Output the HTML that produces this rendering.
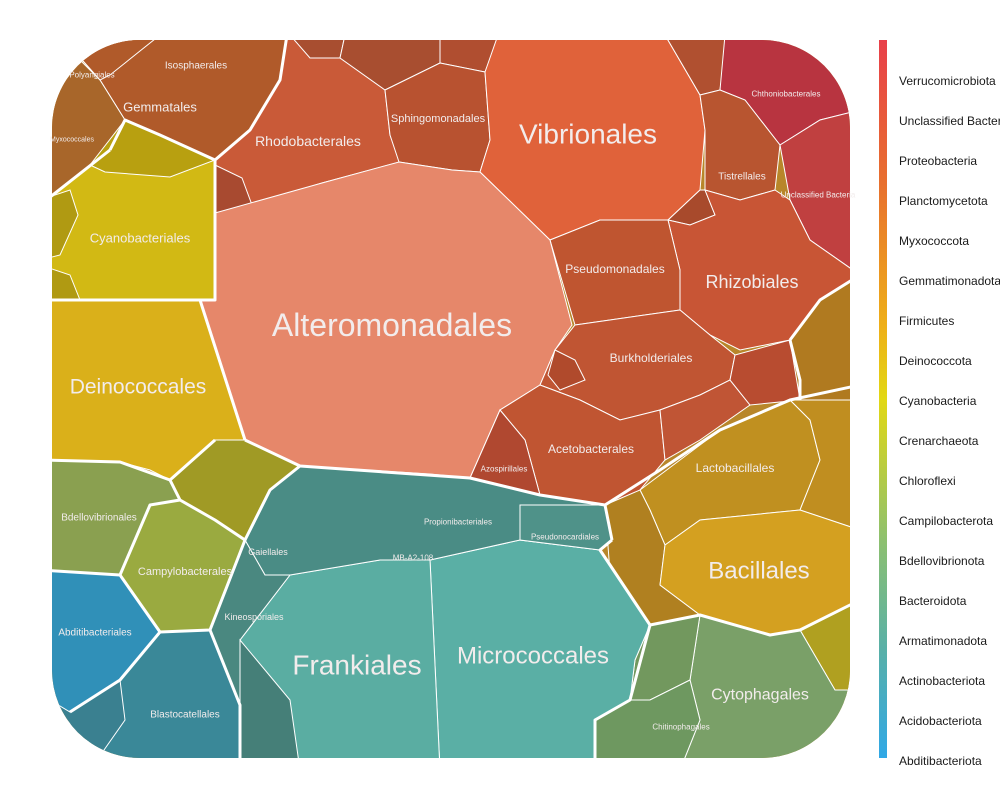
<!DOCTYPE html>
<html><head><meta charset="utf-8">
<style>
html,body{margin:0;padding:0;background:#fff;}
svg{display:block;font-family:"Liberation Sans",sans-serif;}
</style></head>
<body>
<svg id="chart" width="1000" height="800" viewBox="0 0 1000 800">
<defs>
<clipPath id="clip"><rect x="52" y="40" width="798" height="718" rx="88" ry="88"/></clipPath>
<linearGradient id="lg" x1="0" y1="0" x2="0" y2="1">
<stop offset="0" stop-color="#e8404a"/>
<stop offset="0.2" stop-color="#e8702e"/>
<stop offset="0.4" stop-color="#eeb018"/>
<stop offset="0.5" stop-color="#e2d814"/>
<stop offset="0.7" stop-color="#8cc070"/>
<stop offset="0.85" stop-color="#58b0a8"/>
<stop offset="1" stop-color="#30a8e6"/>
</linearGradient>
</defs>
<g id="cells" clip-path="url(#clip)"></g>
<g id="borders" clip-path="url(#clip)"></g>
<g id="labels"></g>
<rect x="879" y="40" width="8" height="718" fill="url(#lg)"/>
<g id="legend"></g>
</svg>
<script>
const legendLabels=["Verrucomicrobiota","Unclassified Bacteria","Proteobacteria","Planctomycetota","Myxococcota","Gemmatimonadota","Firmicutes","Deinococcota","Cyanobacteria","Crenarchaeota","Chloroflexi","Campilobacterota","Bdellovibrionota","Bacteroidota","Armatimonadota","Actinobacteriota","Acidobacteriota","Abditibacteriota"];
const cells=[
["background-fill","#b8862a","0,0 1000,0 1000,800 0,800"],
["planctomycetota","#b05a2a","100,80 60,35 290,35 280,80 250,130 215,160 160,135 125,120"],
["myxococcota","#a8662a","40,210 110,150 125,120 100,80 60,40 40,40"],
["planctomycetes-small","#b05a2a","100,80 60,35 160,35 110,75"],
["cyanobacteriales","#d2b914","40,205 110,150 125,120 160,135 215,160 215,300 40,300"],
["cyano-top-cell","#b8a010","90,165 125,120 215,160 170,177 105,172"],
["cyano-left-cell","#b09a12","40,200 70,190 78,215 60,255 40,260"],
["cyano-left-cell-2","#b09a12","40,265 70,275 80,300 40,300"],
["rhodobacterales","#c95a38","214,160 250,130 280,80 287,35 340,35 385,90 390,135 400,162 322,183 252,205 215,213"],
["rhodo-small","#a84a30","215,165 242,178 252,205 215,213"],
["top-small-1","#a84e30","290,35 345,35 340,58 310,58"],
["top-small-2","#a84e30","345,35 440,35 440,63 385,90 340,58"],
["top-small-3","#b04e30","440,35 500,35 485,72 440,63"],
["sphingomonadales","#b85230","385,90 440,63 485,72 490,140 480,172 452,170 399,162 390,135"],
["vibrionales","#e0623a","485,72 498,35 665,35 700,95 705,130 700,190 668,220 600,220 550,240 480,172 490,140"],
["xanthomonadales","#b05030","665,35 728,35 720,90 700,95"],
["chthoniobacterales","#b83440","725,35 860,35 860,110 820,120 780,145 745,100 720,90"],
["unclassified-bacteria","#c04040","780,145 820,120 860,110 860,275 810,240 790,200"],
["tistrellales","#b85530","700,95 720,90 745,100 780,145 775,190 740,200 705,190 705,130"],
["reyranellales","#a84a2c","668,220 700,190 705,190 715,215 690,225"],
["rhizobiales","#c85535","668,220 690,225 715,215 705,190 740,200 775,190 790,200 810,240 860,275 820,300 790,340 740,350 710,335 680,310 680,270"],
["pseudomonadales","#bf5530","550,240 600,220 668,220 680,270 680,310 610,320 575,325"],
["alteromonadales","#e6876a","215,213 322,183 399,162 452,170 480,172 550,240 572,325 555,350 540,385 500,410 470,478 300,466 245,440 200,300 215,300"],
["burkholderiales","#c05533","575,325 610,320 680,310 710,335 735,355 730,380 700,395 660,410 620,420 580,400 540,385 555,350"],
["burk-small","#b04a2c","555,350 575,360 585,380 560,390 548,375"],
["acetobacterales","#c05532","540,385 580,400 620,420 660,410 665,460 640,490 610,505 540,495 525,440 500,410"],
["azospirillales","#b04830","470,478 500,410 525,440 540,495"],
["caulobacterales","#c05535","660,410 700,395 730,380 750,405 700,440 665,460"],
["caulo-small","#b84c30","735,355 790,340 800,380 800,400 750,405 730,380"],
["gemmatimonadales","#b07a20","790,340 820,300 860,275 860,405 800,400"],
["lactobacillales","#c09020","640,490 720,430 790,400 810,420 820,460 800,510 700,520 665,545 650,510"],
["staphylococcales","#c08e20","790,400 860,400 860,530 800,510 820,460 810,420"],
["firmicutes-small","#b08020","605,505 640,490 650,510 665,545 660,585 700,615 650,625 612,600"],
["bacillales","#d4a020","665,545 700,520 800,510 830,520 860,530 860,600 800,630 770,635 700,615 660,585"],
["chloroflexi-right","#b0a020","800,630 860,600 860,690 835,690"],
["cytophagales","#7aa068","700,615 770,635 800,630 835,690 860,690 860,770 680,770 700,720 690,680"],
["bacteroidota-other","#72985e","650,625 700,615 690,680 650,700 630,700 635,660"],
["chitinophagales","#6e9860","630,700 650,700 690,680 700,720 680,770 595,770 595,720"],
["micrococcales","#5aafa5","430,560 520,540 600,550 650,625 635,660 630,700 595,720 595,770 440,770"],
["frankiales","#5aada2","290,575 380,560 430,560 440,770 240,770 240,640"],
["actino-upper","#4a8c85","300,466 430,474 470,478 540,495 605,505 612,540 600,550 520,540 430,560 380,560 290,575 265,575 245,540 270,490"],
["pseudonocardiales","#4f9289","520,505 605,505 612,540 600,550 520,540"],
["kineosporiales","#4a8880","210,630 245,540 265,575 290,575 240,640 240,705"],
["corynebacteriales","#457f78","240,705 240,640 290,700 300,770 240,770"],
["chloroflexi","#a09a25","170,480 215,440 245,440 300,466 270,490 245,540 215,520 180,500"],
["deinococcales","#dab01a","40,300 200,300 245,440 215,440 170,480 150,470 120,462 40,460"],
["bdellovibrionales","#8aa050","40,460 120,462 170,480 180,500 150,505 120,575 40,570"],
["campylobacterales","#9aaa40","120,575 150,505 180,500 215,520 245,540 210,630 160,632"],
["abditibacteriales","#3090b8","40,570 120,575 160,632 120,680 70,712 40,700"],
["blastocatellales","#3a8898","70,712 120,680 160,632 210,630 240,705 240,770 70,770"],
["pyrinomonadales","#3a8090","50,700 70,712 120,680 125,720 90,770 50,770"]
];
const borders=[
"215,160 215,300 200,300 245,440",
"40,300 200,300",
"110,150 125,120 160,135 215,160 250,130 280,80 287,35",
"40,205 110,150",
"245,440 300,466 470,478 540,495 605,505",
"300,466 270,490 245,540 215,520 180,500 170,480 215,440",
"40,460 120,462 170,480",
"120,575 150,505 180,500",
"40,570 120,575 160,632 210,630 245,540",
"160,632 120,680 70,712",
"605,505 660,470 720,430 790,400 860,385",
"790,340 820,300 860,275",
"790,340 800,380 800,400",
"612,540 605,505",
"612,540 600,550 650,625 630,700 595,720 595,770",
"650,625 700,615 770,635 800,630 860,600",
"210,630 240,705 240,770"
];
const labels=[
["Alteromonadales",392,325,32],["Vibrionales",588,134,28],["Frankiales",357,665,28],["Micrococcales",533,656,24],
["Bacillales",759,571,24],["Deinococcales",138,387,21],["Rhizobiales",752,282,18],["Cytophagales",760,695,16],
["Rhodobacterales",308,141,14],["Cyanobacteriales",140,238,13],["Pseudomonadales",615,269,12],["Burkholderiales",651,358,12],
["Acetobacterales",591,449,12],["Lactobacillales",735,468,12],["Campylobacterales",185,572,11],["Gemmatales",160,107,13],
["Sphingomonadales",438,119,11],["Isosphaerales",196,66,10],["Tistrellales",742,177,10],["Bdellovibrionales",99,518,10],
["Abditibacteriales",95,633,10],["Blastocatellales",185,715,10],["Chthoniobacterales",786,94,8],["Unclassified Bacteria",818,195,8],
["Gaiellales",268,552,9],["Kineosporiales",254,617,9],["Propionibacteriales",458,522,8],["Pseudonocardiales",565,537,8],
["MB-A2-108",413,558,8],["Azospirillales",504,469,8],["Chitinophagales",681,727,8],["Polyangiales",92,75,8],["Myxococcales",72,140,7]
];
const NS="http://www.w3.org/2000/svg";
const gc=document.getElementById('cells');
cells.forEach(c=>{
 const p=document.createElementNS(NS,'polygon');
 p.setAttribute('points',c[2]);p.setAttribute('fill',c[1]);
 p.setAttribute('stroke','#fff');p.setAttribute('stroke-width','1');
 
 
 gc.appendChild(p);
});
const gb=document.getElementById('borders');
borders.forEach((b,i)=>{
 const p=document.createElementNS(NS,'polyline');
 p.setAttribute('points',b);p.setAttribute('fill','none');
 p.setAttribute('stroke','#fff');p.setAttribute('stroke-width','3');p.setAttribute('stroke-linejoin','round');
 
 
 gb.appendChild(p);
});
const gl=document.getElementById('labels');
labels.forEach(l=>{
 const t=document.createElementNS(NS,'text');
 t.setAttribute('x',l[1]);t.setAttribute('y',l[2]);t.setAttribute('font-size',l[3]);
 t.setAttribute('fill','#f2ecec');t.setAttribute('text-anchor','middle');t.setAttribute('dominant-baseline','central');
 t.textContent=l[0];
 
 
 gl.appendChild(t);
});
const lg=document.getElementById('legend');
legendLabels.forEach((s,i)=>{
 const t=document.createElementNS(NS,'text');
 t.setAttribute('x',899);t.setAttribute('y',81+i*40);t.setAttribute('font-size',12);
 t.setAttribute('fill','#1a1a1a');t.setAttribute('dominant-baseline','central');
 t.textContent=s;
 
 
 lg.appendChild(t);
});
</script>
</body></html>
